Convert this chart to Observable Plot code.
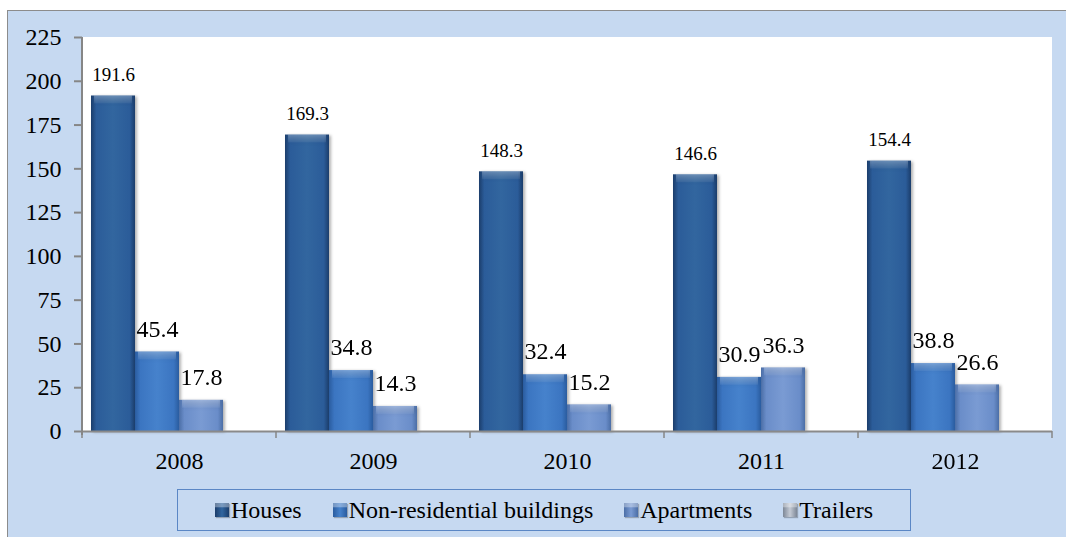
<!DOCTYPE html>
<html><head><meta charset="utf-8">
<script src="https://cdn.jsdelivr.net/npm/d3@7"></script>
<script src="https://cdn.jsdelivr.net/npm/@observablehq/plot@0.6"></script>
<style>
body{margin:0;background:#fff;width:1066px;height:537px;overflow:hidden;position:relative;font-family:'Liberation Serif',serif;}
#bg{position:absolute;left:7px;top:10px;width:1075px;height:545px;background:#c6d9f1;border:1.5px solid #8c8c8c;box-sizing:border-box;}
#chart{position:absolute;left:0;top:0;}
#chart svg text{font-family:'Liberation Serif',serif;}
#legend{position:absolute;left:177px;top:489px;width:734px;height:42px;box-sizing:border-box;border:1.5px solid #5b87c5;display:flex;align-items:center;justify-content:center;gap:31px;font-size:24px;color:#000;font-family:'Liberation Serif',serif;}
.item{display:flex;align-items:center;white-space:nowrap;}
.sw{width:14px;height:14px;margin-right:2px;box-shadow:1px 1px 1px rgba(0,0,0,0.25);}
</style></head>
<body><div id="bg"></div><div id="chart"></div><div id="legend"></div>
<script>
// ---- data ----
const years = ["2008", "2009", "2010", "2011", "2012"];
const seriesNames = ["Houses", "Non-residential buildings", "Apartments", "Trailers"];
const houses = [191.6, 169.3, 148.3, 146.6, 154.4];
const nonResidential = [45.4, 34.8, 32.4, 30.9, 38.8];
const apartments = [17.8, 14.3, 15.2, 36.3, 26.6];
const trailers = [null, null, null, null, null];
const yTicks = [0, 25, 50, 75, 100, 125, 150, 175, 200, 225];

// ---- styles ----
const edgeColors = ["#1b3d6b", "#2a5c9f", "#4b6ea6", "#7d8796"];
const bodyColors = ["#2b5c99", "#3b75c1", "#6a8dc9", "#aab3c1"];
const lightColors = ["#32669f", "#4682cc", "#7a9bd3", "#c4cad4"];
const serif = "'Liberation Serif', serif";

const valuesBySeries = [houses, nonResidential, apartments, trailers];
const rows = [];
years.forEach((yr, i) => valuesBySeries.forEach((vals, s) => {
  if (vals[i] != null) rows.push({year: yr, series: seriesNames[s], value: vals[i]});
}));

const chart = Plot.plot({
  width: 1066,
  height: 480,
  marginLeft: 81,
  marginRight: 13,
  marginTop: 37,
  marginBottom: 49,
  style: {background: "transparent", fontFamily: serif, fontSize: "24px", color: "#000", overflow: "visible"},
  fx: {domain: years, padding: 0, label: null},
  x: {domain: seriesNames, paddingInner: 0, paddingOuter: 0.2, axis: null},
  y: {domain: [0, 225], label: null},
  color: {domain: seriesNames, range: seriesNames.map((_, i) => `url(#bar${i})`)},
  marks: [
    Plot.barY(rows, {fx: "year", x: "series", y: "value", fill: "series"}),
    Plot.barY(rows, {fx: "year", x: "series", y1: d => Math.max(0, d.value - 4.5), y2: "value", fill: "url(#bevel)", insetLeft: 3, insetRight: 3}),
    Plot.ruleY([0], {stroke: "#8a8a8a", strokeWidth: 2}),
    Plot.text(rows.filter(d => d.series === "Houses"), {fx: "year", x: "series", y: "value", text: d => d.value.toFixed(1), dy: -21, lineAnchor: "middle", fontSize: 19, fontFamily: serif, fill: "#000"}),
    Plot.text(rows.filter(d => d.series !== "Houses"), {fx: "year", x: "series", y: "value", text: d => d.value.toFixed(1), dy: -23, lineAnchor: "middle", fontSize: 24, fontFamily: serif, fill: "#000"}),
    Plot.axisY({ticks: yTicks, tickSize: 8, tickPadding: 13, stroke: "#868686", strokeWidth: 2, fill: "#000", fontSize: 24, fontFamily: serif, label: null}),
    Plot.axisFx({anchor: "bottom", tickSize: 0, tickPadding: 20, fontSize: 24, fontFamily: serif, fill: "#000", label: null})
  ]
});
document.getElementById("chart").appendChild(chart);

// ---- decorations from scales ----
const svg = d3.select(chart);
const defs = svg.insert("defs", ":first-child");
seriesNames.forEach((s, i) => {
  const g = defs.append("linearGradient").attr("id", `bar${i}`)
    .attr("x1", "0").attr("x2", "1").attr("y1", "0").attr("y2", "0");
  [[0, edgeColors[i]], [0.12, bodyColors[i]], [0.5, lightColors[i]], [0.88, bodyColors[i]], [1, edgeColors[i]]]
    .forEach(([o, c]) => g.append("stop").attr("offset", o).attr("stop-color", c));
});
const bev = defs.append("linearGradient").attr("id", "bevel").attr("x1", "0").attr("x2", "0").attr("y1", "0").attr("y2", "1");
bev.append("stop").attr("offset", 0).attr("stop-color", "#fff").attr("stop-opacity", 0.28);
bev.append("stop").attr("offset", 1).attr("stop-color", "#fff").attr("stop-opacity", 0.06);

const fx = chart.scale("fx"), y = chart.scale("y");
const left = fx.apply(years[0]);
const right = fx.apply(years[years.length - 1]) + fx.bandwidth;
const yTop = y.apply(yTicks[yTicks.length - 1]), yBase = y.apply(0);
svg.insert("rect", "g").attr("x", left).attr("y", yTop).attr("width", right - left).attr("height", yBase - yTop).attr("fill", "#fff");
svg.selectAll('g[aria-label="bar"]').style("filter", "drop-shadow(2px 1px 1.5px rgba(0,0,0,0.3))");
svg.append("line").attr("x1", left).attr("x2", left).attr("y1", yTop).attr("y2", yBase + 4)
  .attr("stroke", "#868686").attr("stroke-width", 2);
const bounds = years.map(yr => fx.apply(yr)).concat([right]);
bounds.forEach(bx => svg.append("line").attr("x1", bx).attr("x2", bx).attr("y1", yBase).attr("y2", yBase + 7)
  .attr("stroke", "#868686").attr("stroke-width", 1.5));

// ---- legend ----
const legend = d3.select("#legend");
seriesNames.forEach((s, i) => {
  const it = legend.append("div").attr("class", "item");
  it.append("div").attr("class", "sw")
    .style("background", `linear-gradient(to bottom, rgba(255,255,255,0.35) 0 25%, rgba(255,255,255,0) 35%), linear-gradient(to right, ${edgeColors[i]}, ${lightColors[i]} 50%, ${edgeColors[i]})`);
  it.append("span").text(s);
});
</script>
</body></html>
